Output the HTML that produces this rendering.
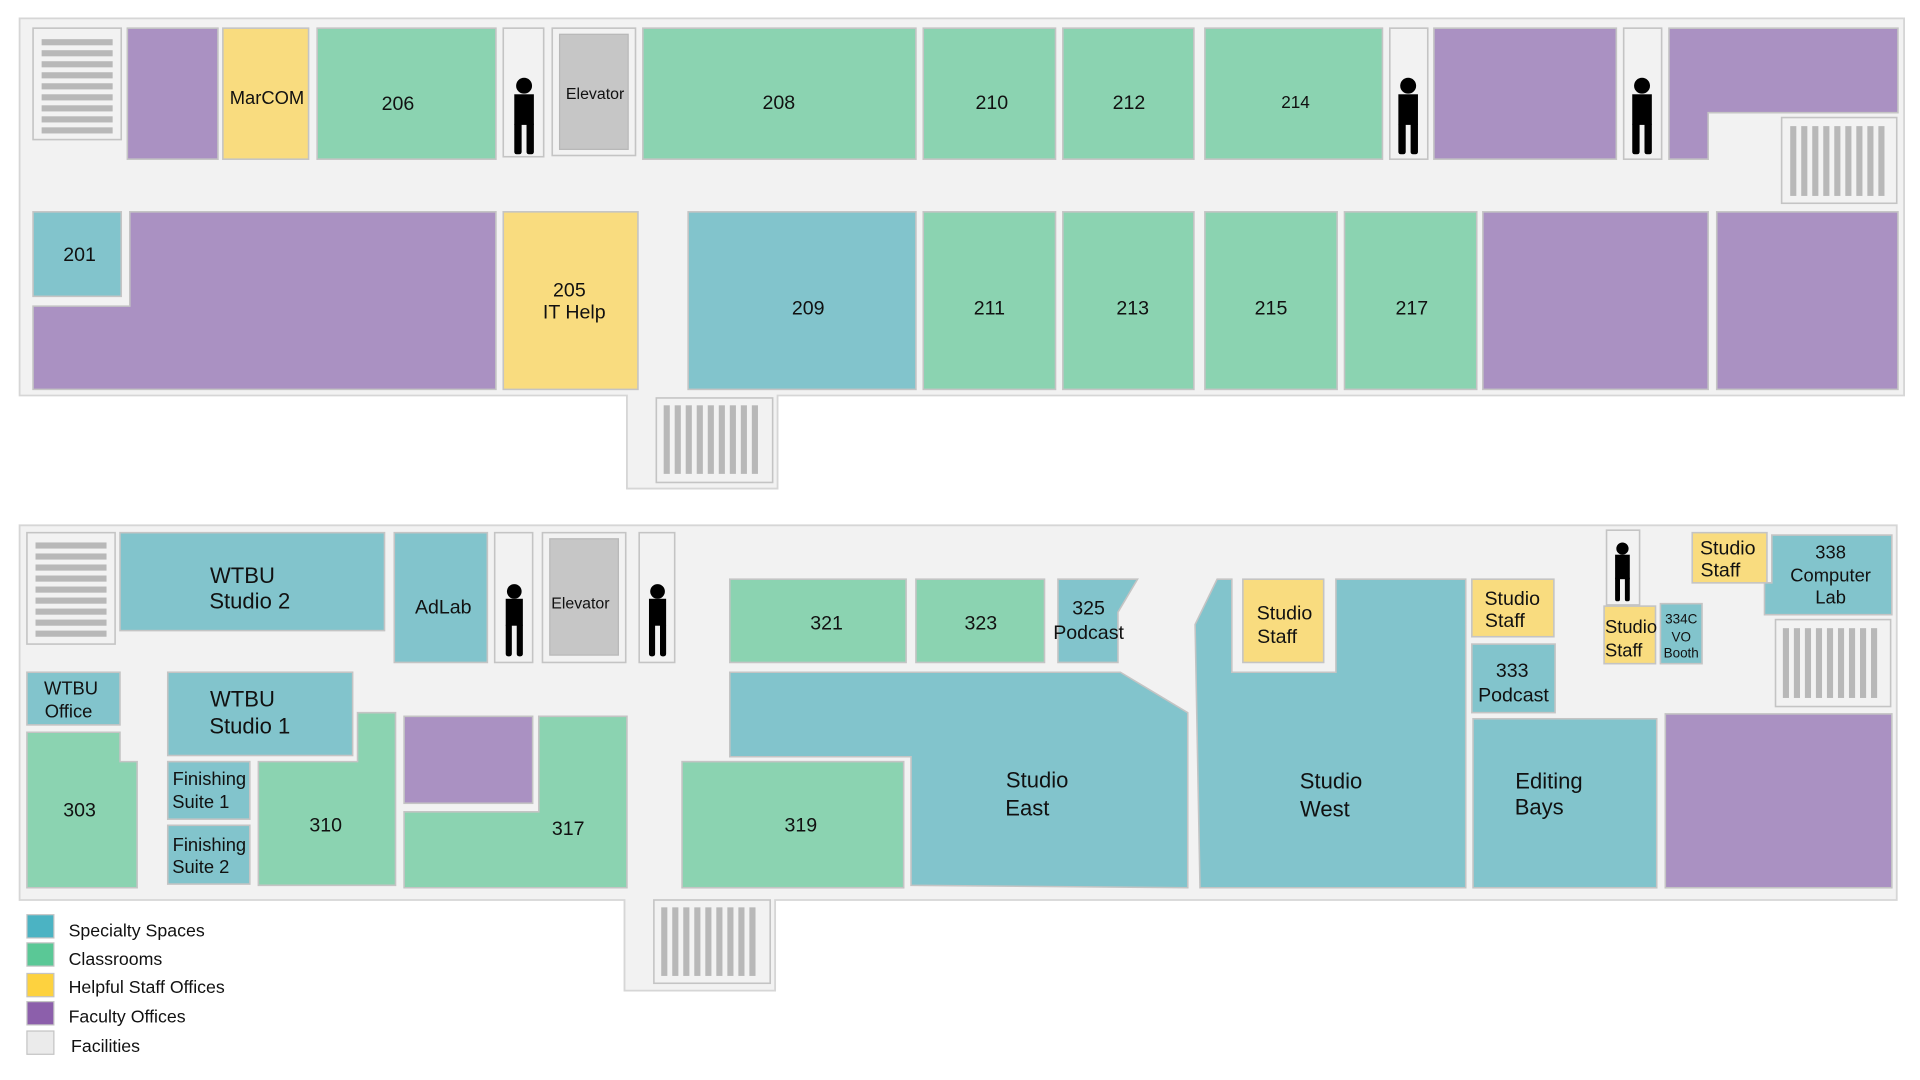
<!DOCTYPE html>
<html><head><meta charset="utf-8"><style>
html,body{margin:0;padding:0;background:#fff;width:1920px;height:1080px;overflow:hidden}
svg{display:block}
text{font-family:"Liberation Sans",sans-serif;fill:#111;text-anchor:middle}
.r{stroke:#c4c4c4;stroke-width:1.3}
.p{fill:#aa91c2}.y{fill:#f9dc7f}.g{fill:#8bd3b1}.b{fill:#82c4cc}.w{fill:#f2f2f2}
.bar{fill:#b8b8b8}
.lg{text-anchor:start;font-size:14.5px}
</style></head><body>
<svg width="1920" height="1080" viewBox="0 0 1568 882" preserveAspectRatio="none">
<!-- Floor 2 -->
<path d="M16,15 H1555 V323 H635 V399 H512 V323 H16 Z" fill="#f2f2f2" stroke="#d6d6d6" stroke-width="1.5"/>
<!-- stairs top-left -->
<rect class="r w" x="27" y="23" width="72" height="91"/>
<g class="bar"><rect x="34" y="32" width="58" height="5"/><rect x="34" y="41" width="58" height="5"/><rect x="34" y="50" width="58" height="5"/><rect x="34" y="59" width="58" height="5"/><rect x="34" y="68" width="58" height="5"/><rect x="34" y="77" width="58" height="5"/><rect x="34" y="86" width="58" height="5"/><rect x="34" y="95" width="58" height="5"/><rect x="34" y="104" width="58" height="5"/></g>
<rect class="r p" x="104" y="23" width="74" height="107"/>
<rect class="r y" x="182" y="23" width="70" height="107"/><text x="218" y="85" font-size="15">MarCOM</text>
<rect class="r g" x="259" y="23" width="146" height="107"/><text x="325" y="90" font-size="16">206</text>
<rect class="r w" x="411" y="23" width="33" height="105"/>
<g fill="#000"><circle cx="428" cy="70" r="6.5"/><rect x="420" y="77" width="16" height="25"/><rect x="420" y="100" width="6" height="26" rx="2"/><rect x="430" y="100" width="6" height="26" rx="2"/></g>
<rect class="r w" x="451" y="23" width="68" height="104"/><rect x="457" y="28" width="56" height="94" fill="#c6c6c6" stroke="#b8b8b8"/><text x="486" y="81" font-size="13">Elevator</text>
<rect class="r g" x="525" y="23" width="223" height="107"/><text x="636" y="89" font-size="16">208</text>
<rect class="r g" x="754" y="23" width="108" height="107"/><text x="810" y="89" font-size="16">210</text>
<rect class="r g" x="868" y="23" width="107" height="107"/><text x="922" y="89" font-size="16">212</text>
<rect class="r g" x="984" y="23" width="145" height="107"/><text x="1058" y="88" font-size="14">214</text>
<rect class="r w" x="1135" y="23" width="31" height="107"/>
<g fill="#000"><circle cx="1150" cy="70" r="6.5"/><rect x="1142" y="77" width="16" height="25"/><rect x="1142" y="100" width="6" height="26" rx="2"/><rect x="1152" y="100" width="6" height="26" rx="2"/></g>
<rect class="r p" x="1171" y="23" width="149" height="107"/>
<rect class="r w" x="1326" y="23" width="31" height="107"/>
<g fill="#000"><circle cx="1341" cy="70" r="6.5"/><rect x="1333" y="77" width="16" height="25"/><rect x="1333" y="100" width="6" height="26" rx="2"/><rect x="1343" y="100" width="6" height="26" rx="2"/></g>
<path class="r p" d="M1363,23 H1550 V92 H1395 V130 H1363 Z"/>
<rect class="r w" x="1455" y="96" width="94" height="70"/>
<g class="bar"><rect x="1462" y="103" width="5" height="57"/><rect x="1471" y="103" width="5" height="57"/><rect x="1480" y="103" width="5" height="57"/><rect x="1489" y="103" width="5" height="57"/><rect x="1498" y="103" width="5" height="57"/><rect x="1507" y="103" width="5" height="57"/><rect x="1516" y="103" width="5" height="57"/><rect x="1525" y="103" width="5" height="57"/><rect x="1534" y="103" width="5" height="57"/></g>
<rect class="r b" x="27" y="173" width="72" height="69"/><text x="65" y="213" font-size="16">201</text>
<path class="r p" d="M106,173 H405 V318 H27 V250 H106 Z"/>
<rect class="r y" x="411" y="173" width="110" height="145"/><text x="465" y="242" font-size="16">205</text><text x="469" y="260" font-size="16">IT Help</text>
<rect class="r b" x="562" y="173" width="186" height="145"/><text x="660" y="257" font-size="16">209</text>
<rect class="r g" x="754" y="173" width="108" height="145"/><text x="808" y="257" font-size="16">211</text>
<rect class="r g" x="868" y="173" width="107" height="145"/><text x="925" y="257" font-size="16">213</text>
<rect class="r g" x="984" y="173" width="108" height="145"/><text x="1038" y="257" font-size="16">215</text>
<rect class="r g" x="1098" y="173" width="108" height="145"/><text x="1153" y="257" font-size="16">217</text>
<rect class="r p" x="1211" y="173" width="184" height="145"/>
<rect class="r p" x="1402" y="173" width="148" height="145"/>
<rect class="r w" x="536" y="325" width="95" height="69"/>
<g class="bar"><rect x="542" y="331" width="5" height="56"/><rect x="551" y="331" width="5" height="56"/><rect x="560" y="331" width="5" height="56"/><rect x="569" y="331" width="5" height="56"/><rect x="578" y="331" width="5" height="56"/><rect x="587" y="331" width="5" height="56"/><rect x="596" y="331" width="5" height="56"/><rect x="605" y="331" width="5" height="56"/><rect x="614" y="331" width="5" height="56"/></g>

<!-- Floor 3 -->
<path d="M16,429 H1549 V735 H633 V809 H510 V735 H16 Z" fill="#f2f2f2" stroke="#d6d6d6" stroke-width="1.5"/>
<rect class="r w" x="22" y="435" width="72" height="91"/>
<g class="bar"><rect x="29" y="443" width="58" height="5"/><rect x="29" y="452" width="58" height="5"/><rect x="29" y="461" width="58" height="5"/><rect x="29" y="470" width="58" height="5"/><rect x="29" y="479" width="58" height="5"/><rect x="29" y="488" width="58" height="5"/><rect x="29" y="497" width="58" height="5"/><rect x="29" y="506" width="58" height="5"/><rect x="29" y="515" width="58" height="5"/></g>
<rect class="r b" x="98" y="435" width="216" height="80"/><text x="198" y="476" font-size="18">WTBU</text><text x="204" y="497" font-size="18">Studio 2</text>
<rect class="r b" x="322" y="435" width="76" height="106"/><text x="362" y="501" font-size="16">AdLab</text>
<rect class="r w" x="404" y="435" width="31" height="106"/>
<g fill="#000"><circle cx="420" cy="483" r="6"/><rect x="413" y="489" width="14" height="22"/><rect x="413" y="509" width="5" height="27" rx="2"/><rect x="422" y="509" width="5" height="27" rx="2"/></g>
<rect class="r w" x="443" y="435" width="68" height="106"/><rect x="449" y="440" width="56" height="95" fill="#c6c6c6" stroke="#b8b8b8"/><text x="474" y="497" font-size="13">Elevator</text>
<rect class="r w" x="522" y="435" width="29" height="106"/>
<g fill="#000"><circle cx="537" cy="483" r="6"/><rect x="530" y="489" width="14" height="22"/><rect x="530" y="509" width="5" height="27" rx="2"/><rect x="539" y="509" width="5" height="27" rx="2"/></g>
<rect class="r g" x="596" y="473" width="144" height="68"/><text x="675" y="514" font-size="16">321</text>
<rect class="r g" x="748" y="473" width="105" height="68"/><text x="801" y="514" font-size="16">323</text>
<path class="r b" d="M864,473 H929 L913,500 V541 H864 Z"/><text x="889" y="502" font-size="16">325</text><text x="889" y="522" font-size="16">Podcast</text>
<path class="r b" d="M596,549 H915 L970,582 V725 L744,723 V618 H596 Z"/>
<rect class="r g" x="557" y="622" width="181" height="103"/><text x="654" y="679" font-size="16">319</text>
<text x="847" y="643" font-size="18">Studio</text><text x="839" y="666" font-size="18">East</text>
<path class="r b" d="M976,510 L994,473 H1006 V549 H1091 V473 H1197 V725 H980 Z"/>
<rect class="r y" x="1015" y="473" width="66" height="68"/><text x="1049" y="506" font-size="16">Studio</text><text x="1043" y="525" font-size="16">Staff</text>
<text x="1087" y="644" font-size="18">Studio</text><text x="1082" y="667" font-size="18">West</text>
<rect class="r y" x="1202" y="473" width="67" height="47"/><text x="1235" y="494" font-size="16">Studio</text><text x="1229" y="512" font-size="16">Staff</text>
<rect class="r b" x="1202" y="526" width="68" height="56"/><text x="1235" y="553" font-size="16">333</text><text x="1236" y="573" font-size="16">Podcast</text>
<rect class="r b" x="1203" y="587" width="150" height="138"/><text x="1265" y="644" font-size="18">Editing</text><text x="1257" y="665" font-size="18">Bays</text>
<rect class="r p" x="1360" y="583" width="185" height="142"/>
<rect class="r w" x="1312" y="433" width="27" height="61"/>
<g fill="#000"><circle cx="1325" cy="448" r="5"/><rect x="1319" y="453" width="12" height="20"/><rect x="1319" y="471" width="4" height="20" rx="1.5"/><rect x="1327" y="471" width="4" height="20" rx="1.5"/></g>
<rect class="r y" x="1310" y="495" width="42" height="47"/><text x="1332" y="517" font-size="15">Studio</text><text x="1326" y="536" font-size="15">Staff</text>
<rect class="r b" x="1356" y="493" width="34" height="49"/><text x="1373" y="509" font-size="11">334C</text><text x="1373" y="524" font-size="11">VO</text><text x="1373" y="537" font-size="11">Booth</text>
<rect class="r y" x="1382" y="435" width="61" height="41"/><text x="1411" y="453" font-size="16">Studio</text><text x="1405" y="471" font-size="16">Staff</text>
<path class="r b" d="M1447,437 H1545 V502 H1441 V476 H1447 Z"/><text x="1495" y="456" font-size="15">338</text><text x="1495" y="475" font-size="15">Computer</text><text x="1495" y="493" font-size="15">Lab</text>
<rect class="r w" x="1450" y="506" width="94" height="71"/>
<g class="bar"><rect x="1456" y="513" width="5" height="57"/><rect x="1465" y="513" width="5" height="57"/><rect x="1474" y="513" width="5" height="57"/><rect x="1483" y="513" width="5" height="57"/><rect x="1492" y="513" width="5" height="57"/><rect x="1501" y="513" width="5" height="57"/><rect x="1510" y="513" width="5" height="57"/><rect x="1519" y="513" width="5" height="57"/><rect x="1528" y="513" width="5" height="57"/></g>
<rect class="r b" x="22" y="549" width="76" height="43"/><text x="58" y="567" font-size="15">WTBU</text><text x="56" y="586" font-size="15">Office</text>
<path class="r g" d="M22,598 H98 V622 H112 V725 H22 Z"/><text x="65" y="667" font-size="16">303</text>
<rect class="r b" x="137" y="549" width="151" height="68"/><text x="198" y="577" font-size="18">WTBU</text><text x="204" y="599" font-size="18">Studio 1</text>
<rect class="r b" x="137" y="622" width="67" height="47"/><text x="171" y="641" font-size="15">Finishing</text><text x="164" y="660" font-size="15">Suite 1</text>
<rect class="r b" x="137" y="674" width="67" height="48"/><text x="171" y="695" font-size="15">Finishing</text><text x="164" y="713" font-size="15">Suite 2</text>
<path class="r g" d="M211,622 H292 V582 H323 V723 H211 Z"/><text x="266" y="679" font-size="16">310</text>
<rect class="r p" x="330" y="585" width="105" height="71"/>
<path class="r g" d="M440,585 H512 V725 H330 V663 H440 Z"/><text x="464" y="682" font-size="16">317</text>
<rect class="r w" x="534" y="735" width="95" height="68"/>
<g class="bar"><rect x="540" y="741" width="5" height="56"/><rect x="549" y="741" width="5" height="56"/><rect x="558" y="741" width="5" height="56"/><rect x="567" y="741" width="5" height="56"/><rect x="576" y="741" width="5" height="56"/><rect x="585" y="741" width="5" height="56"/><rect x="594" y="741" width="5" height="56"/><rect x="603" y="741" width="5" height="56"/><rect x="612" y="741" width="5" height="56"/></g>

<!-- Legend -->
<rect x="22" y="747" width="22" height="19" fill="#4bb3c3" stroke="#c4c4c4"/><text class="lg" x="56" y="765">Specialty Spaces</text>
<rect x="22" y="770" width="22" height="19" fill="#5ac896" stroke="#c4c4c4"/><text class="lg" x="56" y="788">Classrooms</text>
<rect x="22" y="795" width="22" height="19" fill="#fdd23f" stroke="#c4c4c4"/><text class="lg" x="56" y="811">Helpful Staff Offices</text>
<rect x="22" y="818" width="22" height="19" fill="#8c5fab" stroke="#c4c4c4"/><text class="lg" x="56" y="835">Faculty Offices</text>
<rect x="22" y="842" width="22" height="19" fill="#ebebeb" stroke="#c4c4c4"/><text class="lg" x="58" y="859">Facilities</text>
</svg>
</body></html>
